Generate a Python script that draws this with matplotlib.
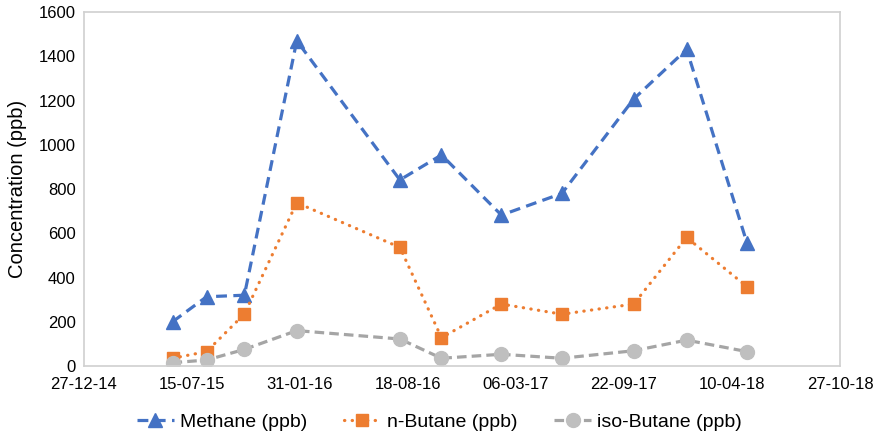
import matplotlib
matplotlib.use("Agg")
import matplotlib.pyplot as plt
import matplotlib.dates as mdates
import pandas as pd

plt.rcParams['font.family'] = ['Liberation Sans', 'DejaVu Sans']

# sampling dates and concentrations (ppb)
dates = pd.to_datetime([
    "2015-06-09", "2015-08-11", "2015-10-20", "2016-01-25", "2016-08-03",
    "2016-10-19", "2017-02-07", "2017-05-30", "2017-10-10", "2018-01-16",
    "2018-05-08",
])
methane = [200, 313, 320, 1470, 841, 954, 682, 780, 1207, 1431, 554]
n_butane = [35, 65, 235, 738, 536, 128, 280, 234, 280, 581, 358]
iso_butane = [15, 27, 75, 160, 122, 35, 53, 35, 69, 117, 65]

x_ticks = pd.date_range("2014-12-27", periods=8, freq="200D")

fig = plt.figure(figsize=(8.8, 4.4), dpi=100)
ax = fig.add_axes([84 / 880, 1 - 366 / 440, 756 / 880, 354 / 440])

ax.plot(dates, methane, color="#4472C4", lw=2.3, dashes=(3.4, 2.0),
        marker="^", ms=10, label="Methane (ppb)")
ax.plot(dates, n_butane, color="#ED7D31", lw=2.3, dashes=(0.1, 2.3),
        dash_capstyle="round", marker="s", ms=9, label="n-Butane (ppb)")
ax.plot(dates, iso_butane, color="#A5A5A5", lw=2.3, dashes=(3, 1.6),
        marker="o", ms=10, mfc="#BFBFBF", mec="#BFBFBF",
        label="iso-Butane (ppb)")

ax.set_xlim(x_ticks[0], x_ticks[-1])
ax.set_ylim(0, 1600)
ax.set_xticks(x_ticks)
ax.xaxis.set_major_formatter(mdates.DateFormatter("%d-%m-%y"))
ax.set_yticks(range(0, 1601, 200))
ax.tick_params(length=0, labelsize=12, colors="#000000", pad=8)
ax.tick_params(axis="y", pad=6)

for s in ax.spines.values():
    s.set_color("#D0D0D0")
    s.set_linewidth(1.2)

ax.set_ylabel("Concentration (ppb)", fontsize=14.5, labelpad=8)

ax.legend(loc="upper center", bbox_to_anchor=(0.47, -0.085), ncol=3,
          frameon=False, fontsize=14, handlelength=1.9, columnspacing=1.9,
          handletextpad=0.3)

fig.savefig("out.png", dpi=100)
